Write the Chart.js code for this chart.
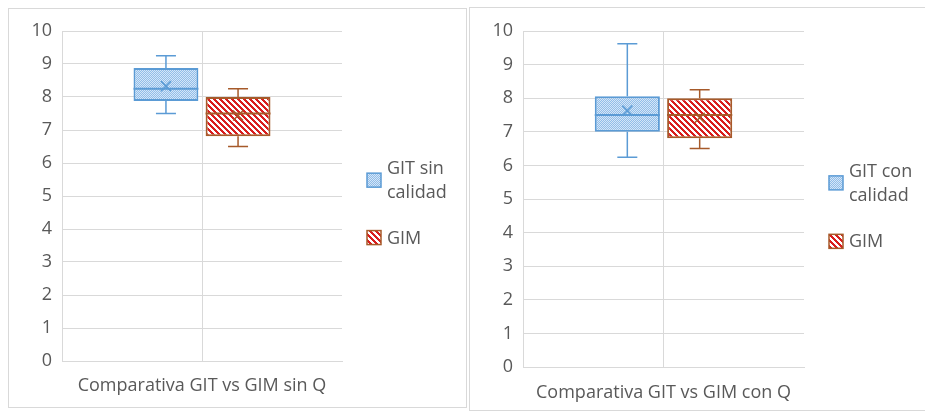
<!DOCTYPE html>
<html>
<head>
<meta charset="utf-8">
<script src="https://cdn.jsdelivr.net/npm/chart.js@4/dist/chart.umd.min.js"></script>
<style>
  body { margin: 0; background: #fff; width: 925px; height: 411px; overflow: hidden; position: relative; }
  .frame { position: absolute; border: 1px solid #d9d9d9; background: #fff; }
  #boxSin { left: 8px; top: 8px; }
  #boxCon { left: 469px; top: 7px; }
  canvas { display: block; }
</style>
</head>
<body>
<div class="frame" id="boxSin"><canvas id="chartSin" width="457" height="398"></canvas></div>
<div class="frame" id="boxCon"><canvas id="chartCon" width="460" height="402"></canvas></div>
<script>
'use strict'

// categories
const labelSin = ['Comparativa GIT vs GIM sin Q'];
const labelCon = ['Comparativa GIT vs GIM con Q'];

// box stats per series: [min, q1, median, q3, max]
const gitSin = [7.5, 7.88, 8.25, 8.88, 9.25];
const gitSinMean = 8.33;
const gimSin = [6.5, 6.81, 7.5, 8.0, 8.25];
const gimSinMean = 7.44;

const gitCon = [6.24, 7.0, 7.5, 8.06, 9.62];
const gitConMean = 7.63;
const gimCon = [6.5, 6.81, 7.5, 8.0, 8.25];
const gimConMean = 7.42;

// legend text
const legendSin = [['GIT sin', 'calidad'], ['GIM']];
const legendCon = [['GIT con', 'calidad'], ['GIM']];

const blueLine = '#5b9bd5';
const brownLine = '#a65a2a';
const textGrey = '#595959';
const gridGrey = '#d9d9d9';
const fontFamily = '"Open Sans", "Noto Sans", sans-serif';

function dotPattern() {
    let c = document.createElement('canvas');
    c.width = 2; c.height = 2;
    let g = c.getContext('2d');
    g.fillStyle = '#92bde8';
    g.fillRect(0, 0, 2, 2);
    g.fillStyle = '#d4e6f8';
    g.fillRect(0, 0, 1, 1);
    g.fillRect(1, 1, 1, 1);
    return g.createPattern(c, 'repeat');
}

function stripePattern() {
    let c = document.createElement('canvas');
    c.width = 6; c.height = 6;
    let g = c.getContext('2d');
    g.fillStyle = '#ffffff';
    g.fillRect(0, 0, 6, 6);
    g.fillStyle = '#d91e1e';
    for (let x = 0; x < 6; x++) {
        for (let y = 0; y < 6; y++) {
            if (((x - y) % 6 + 6) % 6 < 3) g.fillRect(x, y, 1, 1);
        }
    }
    return g.createPattern(c, 'repeat');
}

// whiskers, median and mean drawn over the floating bars
const boxWhisker = {
    id: 'boxWhisker',
    afterDatasetsDraw(chart) {
        const ctx = chart.ctx;
        const y = chart.scales.y;
        chart.data.datasets.forEach((ds, i) => {
            const meta = chart.getDatasetMeta(i);
            meta.data.forEach((bar, j) => {
                const s = ds.stats[j];
                const x = bar.x;
                const half = bar.width / 2;
                const cap = 10;
                ctx.save();
                ctx.strokeStyle = ds.borderColor;
                ctx.lineWidth = 1.5;
                ctx.beginPath();
                ctx.moveTo(x, y.getPixelForValue(s[3]));
                ctx.lineTo(x, y.getPixelForValue(s[4]));
                ctx.moveTo(x - cap, y.getPixelForValue(s[4]));
                ctx.lineTo(x + cap, y.getPixelForValue(s[4]));
                ctx.moveTo(x, y.getPixelForValue(s[1]));
                ctx.lineTo(x, y.getPixelForValue(s[0]));
                ctx.moveTo(x - cap, y.getPixelForValue(s[0]));
                ctx.lineTo(x + cap, y.getPixelForValue(s[0]));
                ctx.stroke();
                ctx.lineWidth = 2;
                ctx.beginPath();
                ctx.moveTo(x - half, y.getPixelForValue(s[2]));
                ctx.lineTo(x + half, y.getPixelForValue(s[2]));
                ctx.stroke();
                // mean marker
                const my = y.getPixelForValue(ds.mean[j]);
                ctx.lineWidth = 1.5;
                ctx.beginPath();
                ctx.moveTo(x - 5, my - 5);
                ctx.lineTo(x + 5, my + 5);
                ctx.moveTo(x + 5, my - 5);
                ctx.lineTo(x - 5, my + 5);
                ctx.stroke();
                ctx.restore();
            });
        });
    },
    afterDraw(chart) {
        const ctx = chart.ctx;
        const a = chart.chartArea;
        const h = a.bottom - a.top;
        const pos = [0.452, 0.626];
        ctx.save();
        ctx.font = '18px ' + fontFamily;
        ctx.textBaseline = 'middle';
        ctx.fillStyle = textGrey;
        chart.data.datasets.forEach((ds, i) => {
            const bx = a.right + 25;
            const cy = a.top + h * pos[i];
            ctx.fillStyle = ds.backgroundColor;
            ctx.fillRect(bx, cy - 7, 14, 14);
            ctx.strokeStyle = ds.borderColor;
            ctx.lineWidth = 1.5;
            ctx.strokeRect(bx, cy - 7, 14, 14);
            ctx.fillStyle = textGrey;
            const lines = ds.legendLines;
            const start = cy + 1 - (lines.length - 1) * 12;
            lines.forEach((t, k) => ctx.fillText(t, bx + 20, start + k * 24));
        });
        ctx.restore();
    }
};

function makeChart(canvasId, labels, git, gitMean, gim, gimMean, legend, pad) {
    const canvas = document.getElementById(canvasId);
    const config = {
        type: 'bar',
        data: {
            labels: labels,
            datasets: [
                {
                    label: legend[0].join(' '),
                    legendLines: legend[0],
                    data: [[git[1], git[3]]],
                    stats: [git],
                    mean: [gitMean],
                    backgroundColor: dotPattern(),
                    borderColor: blueLine,
                    borderWidth: 2,
                    borderSkipped: false
                },
                {
                    label: legend[1].join(' '),
                    legendLines: legend[1],
                    data: [[gim[1], gim[3]]],
                    stats: [gim],
                    mean: [gimMean],
                    backgroundColor: stripePattern(),
                    borderColor: brownLine,
                    borderWidth: 2,
                    borderSkipped: false
                }
            ]
        },
        options: {
            responsive: false,
            animation: false,
            categoryPercentage: 0.515,
            barPercentage: 0.9,
            layout: { padding: { left: 0, right: pad.right, top: pad.top, bottom: 0 } },
            plugins: {
                legend: { display: false },
                tooltip: { enabled: false }
            },
            scales: {
                x: {
                    grid: { color: gridGrey, offset: false, drawTicks: false },
                    border: { color: gridGrey },
                    ticks: { color: textGrey, padding: pad.label, font: { family: fontFamily, size: 18 } },
                    afterFit: (scale) => { scale.height = pad.bottom; }
                },
                y: {
                    min: 0,
                    max: 10,
                    ticks: { stepSize: 1, color: textGrey, padding: 10, font: { family: fontFamily, size: 18 } },
                    grid: { color: gridGrey, drawTicks: false },
                    border: { color: gridGrey },
                    afterFit: (scale) => { scale.width = 53; }
                }
            }
        },
        plugins: [boxWhisker]
    };
    new Chart(canvas, config);
}

window.onload = function () {
    makeChart('chartSin', labelSin, gitSin, gitSinMean, gimSin, gimSinMean, legendSin,
        { right: 124, top: 22, bottom: 46, label: 14 });
    makeChart('chartCon', labelCon, gitCon, gitConMean, gimCon, gimConMean, legendCon,
        { right: 126, top: 23, bottom: 43, label: 15 });
}
</script>
</body>
</html>
